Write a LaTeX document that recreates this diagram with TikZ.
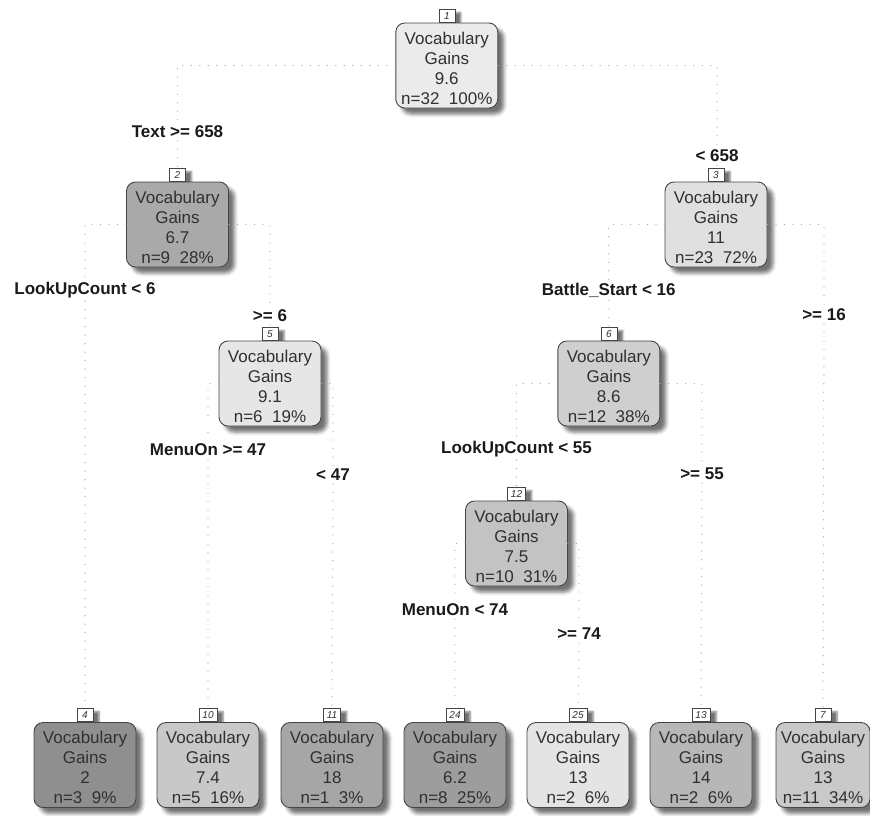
\documentclass[tikz,border=0pt]{standalone}
\usepackage{fontspec}
\setmainfont{Liberation Sans}
\usetikzlibrary{shadows.blur}
\definecolor{txt}{HTML}{303030}
\definecolor{labtxt}{HTML}{1A1A1A}
\definecolor{boxline}{HTML}{454545}
\definecolor{dotc}{HTML}{ABABAB}
\definecolor{c1}{HTML}{EBEBEB}
\definecolor{c2}{HTML}{A9A9A9}
\definecolor{c3}{HTML}{E0E0E0}
\definecolor{c5}{HTML}{E6E6E6}
\definecolor{c6}{HTML}{CFCFCF}
\definecolor{c12}{HTML}{C3C3C3}
\definecolor{c4}{HTML}{8F8F8F}
\definecolor{c10}{HTML}{C8C8C8}
\definecolor{c11}{HTML}{A6A6A6}
\definecolor{c24}{HTML}{9D9D9D}
\definecolor{c25}{HTML}{E4E4E4}
\definecolor{c13}{HTML}{B7B7B7}
\definecolor{c7}{HTML}{C9C9C9}
\newcommand{\topstrut}{\rule{0pt}{18pt}}
\begin{document}
\begin{tikzpicture}[x=1pt,y=-1pt,
  box/.style={draw=boxline, line width=0.9pt, rounded corners=9pt,
    minimum width=102pt, minimum height=85pt, inner xsep=4pt, inner ysep=2pt,
    align=center, text=txt, font=\fontsize{17}{20}\selectfont,
    blur shadow={shadow xshift=6pt, shadow yshift=-6pt, shadow blur radius=3.5pt, shadow opacity=55}},
  numbox/.style={draw=boxline, fill=white, line width=0.6pt, minimum width=16pt,
    minimum height=13pt, inner xsep=3.5pt, inner ysep=0pt, anchor=south,
    font=\fontsize{10}{10}\selectfont\itshape, text=txt,
    blur shadow={shadow xshift=6pt, shadow yshift=-3pt, shadow blur radius=2pt, shadow opacity=55}},
  lab/.style={font=\fontsize{17}{20}\selectfont\bfseries, text=labtxt, inner sep=3pt},
  conn/.style={draw=dotc, line width=1.3pt, line cap=round, dash pattern=on 0pt off 8.5pt}
]
\useasboundingbox (0,0) rectangle (870,815);

% ---- number boxes (drawn first, under the main boxes) ----
\node[numbox] (k1)  at (446.8,23)  {1};
\node[numbox] (k2)  at (177.5,182) {2};
\node[numbox] (k3)  at (716,182)   {3};
\node[numbox] (k5)  at (270,341)   {5};
\node[numbox] (k6)  at (608.8,341) {6};
\node[numbox] (k12) at (516.5,501) {12};
\node[numbox] (k4)  at (85,722)    {4};
\node[numbox] (k10) at (208,722)   {10};
\node[numbox] (k11) at (332,722)   {11};
\node[numbox] (k24) at (455,722)   {24};
\node[numbox] (k25) at (578,722)   {25};
\node[numbox] (k13) at (701,722)   {13};
\node[numbox] (k7)  at (823,722)   {7};

% ---- main boxes ----
\node[box, fill=c1]  (n1)  at (446.8,65.5)  {\topstrut Vocabulary\\Gains\\9.6\\n=32~~100\%};
\node[box, fill=c2]  (n2)  at (177.5,224.5) {\topstrut Vocabulary\\Gains\\6.7\\n=9~~28\%};
\node[box, fill=c3]  (n3)  at (716,224.5)   {\topstrut Vocabulary\\Gains\\11\\n=23~~72\%};
\node[box, fill=c5]  (n5)  at (270,383.5)   {\topstrut Vocabulary\\Gains\\9.1\\n=6~~19\%};
\node[box, fill=c6]  (n6)  at (608.8,383.5) {\topstrut Vocabulary\\Gains\\8.6\\n=12~~38\%};
\node[box, fill=c12] (n12) at (516.5,543.5) {\topstrut Vocabulary\\Gains\\7.5\\n=10~~31\%};
\node[box, fill=c4]  (n4)  at (85,765)      {\topstrut Vocabulary\\Gains\\2\\n=3~~9\%};
\node[box, fill=c10] (n10) at (208,765)     {\topstrut Vocabulary\\Gains\\7.4\\n=5~~16\%};
\node[box, fill=c11] (n11) at (332,765)     {\topstrut Vocabulary\\Gains\\18\\n=1~~3\%};
\node[box, fill=c24] (n24) at (455,765)     {\topstrut Vocabulary\\Gains\\6.2\\n=8~~25\%};
\node[box, fill=c25] (n25) at (578,765)     {\topstrut Vocabulary\\Gains\\13\\n=2~~6\%};
\node[box, fill=c13] (n13) at (701,765)     {\topstrut Vocabulary\\Gains\\14\\n=2~~6\%};
\node[box, fill=c7, minimum width=94pt, inner xsep=2pt] (n7) at (823,765) {\topstrut Vocabulary\\Gains\\13\\n=11~~34\%};

% ---- split labels ----
\node[lab] (l2)  at (177.5,131.5) {Text >= 658};
\node[lab] (l3)  at (717,156)     {< 658};
\node[lab] (l4)  at (85,290)      {LookUpCount < 6};
\node[lab] (l5)  at (270,316)     {>= 6};
\node[lab] (l6)  at (608.8,290)   {Battle\_Start < 16};
\node[lab] (l7)  at (824,315)     {>= 16};
\node[lab] (l10) at (208,450)     {MenuOn >= 47};
\node[lab] (l11) at (333,475)     {< 47};
\node[lab] (l12) at (516.5,449)   {LookUpCount < 55};
\node[lab] (l13) at (702,474)     {>= 55};
\node[lab] (l24) at (455,610)     {MenuOn < 74};
\node[lab] (l25) at (579,634)     {>= 74};

% ---- connectors ----
\draw[conn] (n1.west) -| (l2.north);  \draw[conn] (l2.south) -- (k2.north);
\draw[conn] (n1.east) -| (l3.north);  \draw[conn] (l3.south) -- (k3.north);
\draw[conn] (n2.west) -| (l4.north);  \draw[conn] (l4.south) -- (k4.north);
\draw[conn] (n2.east) -| (l5.north);  \draw[conn] (l5.south) -- (k5.north);
\draw[conn] (n3.west) -| (l6.north);  \draw[conn] (l6.south) -- (k6.north);
\draw[conn] (n3.east) -| (l7.north);  \draw[conn] (l7.south) -- (k7.north);
\draw[conn] (n5.west) -| (l10.north); \draw[conn] (l10.south) -- (k10.north);
\draw[conn] (n5.east) -| (l11.north); \draw[conn] (l11.south) -- (k11.north);
\draw[conn] (n6.west) -| (l12.north); \draw[conn] (l12.south) -- (k12.north);
\draw[conn] (n6.east) -| (l13.north); \draw[conn] (l13.south) -- (k13.north);
\draw[conn] (n12.west) -| (l24.north); \draw[conn] (l24.south) -- (k24.north);
\draw[conn] (n12.east) -| (l25.north); \draw[conn] (l25.south) -- (k25.north);
\end{tikzpicture}
\end{document}
